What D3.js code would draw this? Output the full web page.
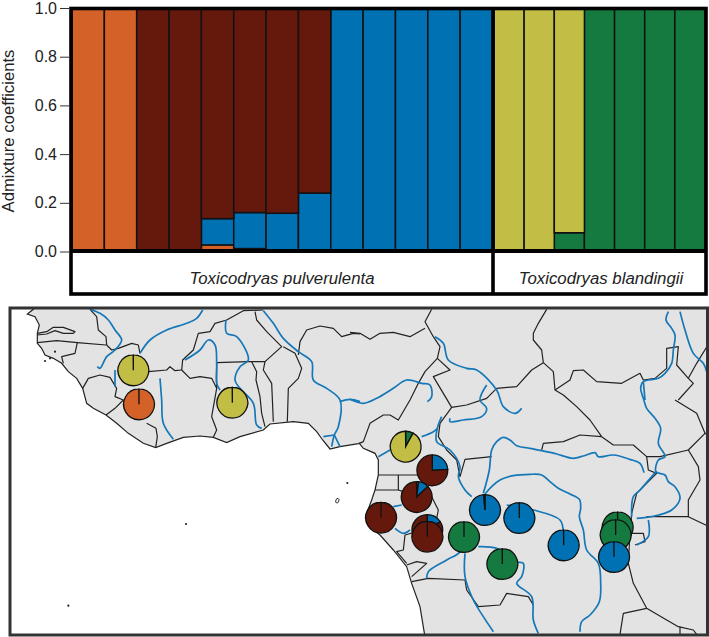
<!DOCTYPE html>
<html>
<head>
<meta charset="utf-8">
<script src="https://cdn.jsdelivr.net/npm/d3@7"></script>
<style>
  html, body { margin: 0; padding: 0; background: #fff; }
  svg { display: block; font-family: "Liberation Sans", Arial, sans-serif; }
</style>
</head>
<body>
<svg id="chart" width="709" height="637"></svg>
<script>
// admixture bars, one value per individual
const individuals = d3.range(20);
const species = ['Toxicodryas pulverulenta', 'Toxicodryas blandingii'];
const speciesCounts = [13, 7];
const clusters = ['orange', 'blue', 'green', 'brown', 'yellow'];
const orangeShare = [1, 1, 0, 0, 0.027, 0.012, 0.004, 0.004, 0, 0, 0, 0, 0, 0, 0, 0, 0, 0, 0, 0];
const blueShare = [0, 0, 0, 0, 0.108, 0.148, 0.153, 0.236, 1, 1, 1, 1, 1, 0, 0, 0, 0, 0, 0, 0];
const greenShare = [0, 0, 0, 0, 0, 0, 0, 0, 0, 0, 0, 0, 0, 0, 0, 0.077, 1, 1, 1, 1];
const brownShare = [0, 0, 1, 1, 0.865, 0.84, 0.843, 0.76, 0, 0, 0, 0, 0, 0, 0, 0, 0, 0, 0, 0];
const yellowShare = [0, 0, 0, 0, 0, 0, 0, 0, 0, 0, 0, 0, 0, 1, 1, 0.923, 0, 0, 0, 0];
const yTicks = [0, 0.2, 0.4, 0.6, 0.8, 1];

// sampling sites, digitised in 3x map units; shares follow the order of clusters
const sitesWest = [
  { at: [400, 211], share: [0, 0, 0, 0, 1] },
  { at: [417, 313], share: [1, 0, 0, 0, 0] },
  { at: [697, 308], share: [0, 0, 0, 0, 1] }
];
const sitesEast = [
  { at: [167, 440], share: [0, 0, 0.08, 0, 0.92] },
  { at: [247, 511], share: [0, 0.24, 0, 0.76, 0] },
  { at: [200, 591], share: [0.02, 0.11, 0, 0.87, 0] },
  { at: [93, 653], share: [0, 0, 0, 1, 0] },
  { at: [232, 690], share: [0, 0.16, 0, 0.84, 0] },
  { at: [232, 710], share: [0, 0, 0, 1, 0] },
  { at: [342, 711], share: [0, 0, 1, 0, 0] },
  { at: [405, 630], share: [0, 0.985, 0, 0.015, 0] },
  { at: [508, 654], share: [0, 1, 0, 0, 0] },
  { at: [457, 792], share: [0, 0, 1, 0, 0] },
  { at: [641, 736], share: [0, 1, 0, 0, 0] },
  { at: [803, 682], share: [0, 0, 1, 0, 0] },
  { at: [797, 705], share: [0, 0, 1, 0, 0] },
  { at: [792, 771], share: [0, 1, 0, 0, 0] }
];

// traced geography
const coastWest = [[105,0],[100,28],[82,42],[105,50],[118,75],[112,100],[112,130],[125,145],[135,165],[160,175],[185,190],[205,215],[230,235],[248,265],[260,310],[280,325],[318,345],[350,370],[385,400],[430,430],[467,443],[500,430],[550,412],[600,408],[640,412],[680,428],[720,410],[790,390],[810,372],[880,365],[925,370],[950,395],[968,420],[990,447],[1020,440],[1080,430]];
const coastEast = [[28,430],[40,445],[75,460],[85,480],[85,525],[75,570],[65,600],[50,640],[60,680],[90,705],[130,750],[170,800],[185,850],[210,920],[225,1011],[1080,1011],[1080,0]];
const bordersWest = [
  [[112,100],[140,95],[160,82],[190,82],[225,95],[220,100],[190,100],[165,92],[140,102],[112,105]],
  [[112,128],[170,122],[232,128],[318,135]],
  [[270,28],[290,50],[295,90],[318,110],[320,135],[335,150],[355,145],[395,130],[415,135],[420,160]],
  [[232,128],[225,160],[185,170],[190,190]],
  [[248,265],[265,235],[300,225],[330,232],[350,265],[345,290],[370,300],[345,325],[318,345]],
  [[440,370],[468,385],[472,410],[467,443]],
  [[445,215],[500,210],[510,200],[525,212],[545,210]],
  [[545,210],[548,180],[580,150],[595,100],[630,95],[645,70],[680,60],[730,32],[790,30]],
  [[545,210],[570,235],[600,230],[635,235],[650,265],[635,350],[650,390],[640,412]],
  [[650,188],[745,185],[795,185],[845,140],[830,125],[800,95],[770,60],[765,35]],
  [[650,188],[650,265]],
  [[755,185],[770,215],[768,240],[780,290],[785,340],[795,380]],
  [[795,185],[790,210],[815,250],[820,365]],
  [[850,140],[885,160],[905,205],[895,235],[865,265],[862,365]],
  [[895,165],[900,125],[920,90],[960,78],[1000,85],[1025,110],[1060,100],[1080,102]]
];
const bordersEast = [
  [[0,97],[30,100],[60,118],[90,100],[130,97],[180,110],[225,85]],
  [[245,28],[225,65],[250,110],[270,140],[262,175],[225,215],[205,250],[180,300],[145,360],[120,345],[100,345],[60,370],[40,425],[28,430]],
  [[262,175],[300,210],[250,230],[280,280],[305,322],[350,315],[410,295],[440,265],[500,260],[545,210],[580,188],[610,215],[615,270],[640,285],[680,320],[720,360],[755,410]],
  [[590,28],[565,70],[550,100],[550,120],[575,150],[580,188]],
  [[615,270],[660,240],[670,212],[700,210],[740,245],[815,250],[870,220],[880,240],[915,235],[950,205],[950,145],[985,140],[980,195],[1015,235],[1040,190],[1077,130]],
  [[985,300],[1030,250],[1015,235]],
  [[975,300],[1040,340],[1065,400],[1015,450],[1045,500],[1050,540],[1015,600],[1015,650],[1077,680]],
  [[1065,400],[1077,405]],
  [[755,410],[690,405],[640,425],[580,430],[575,450]],
  [[755,410],[790,435],[850,435],[890,470],[930,470],[1015,450]],
  [[890,470],[895,510],[920,520],[860,580],[845,640],[840,700],[835,790],[850,850],[890,925],[950,960],[985,980],[1030,990],[1040,1003]],
  [[890,925],[820,940],[810,1003]],
  [[990,980],[990,1003]],
  [[890,650],[1015,650]],
  [[840,700],[880,700],[885,725],[855,735]],
  [[305,322],[270,370],[265,410],[290,450],[320,480],[330,530]],
  [[330,530],[345,478],[425,470]],
  [[85,525],[145,525],[205,525]],
  [[145,525],[145,570],[75,570]],
  [[145,570],[160,575],[245,590],[265,630],[255,680],[165,705],[160,750],[140,755],[170,790]],
  [[170,795],[200,785],[230,790],[185,830]],
  [[185,845],[235,835],[345,840],[350,870],[385,920],[450,915],[470,880],[535,890],[550,915]]
];
const riversWest = [
  [[270,28],[300,40],[325,60],[345,90],[365,120],[345,150],[320,170],[300,205],[292,200]],
  [[608,30],[590,55],[560,70],[500,90],[450,120],[420,160]],
  [[345,210],[345,260]],
  [[480,235],[485,300],[490,370],[520,418]],
  [[555,180],[600,150],[625,120],[645,135],[650,190],[650,250],[660,270]],
  [[678,60],[680,100],[710,110],[745,180],[720,200],[705,240],[720,265],[760,310],[770,375],[785,385]],
  [[790,32],[820,70],[850,115],[895,155],[935,185],[940,240],[980,265],[1020,300],[1015,380],[1003,405],[995,440]],
  [[1003,405],[970,410]],
  [[1003,405],[1020,440]],
  [[1020,305],[1050,298],[1080,305]]
];
const riversEast = [
  [[0,298],[40,310],[80,295],[130,265],[170,240],[215,250],[240,255],[245,290],[232,305]],
  [[255,110],[280,130],[295,180],[350,205],[380,210],[440,270],[460,320],[495,340],[515,325]],
  [[410,255],[390,300],[410,325],[395,350],[340,360],[300,365],[300,355]],
  [[275,350],[262,385],[260,425],[300,450],[330,500],[325,530],[345,570],[365,590]],
  [[85,470],[120,450]],
  [[215,410],[250,395],[262,385]],
  [[400,580],[418,510],[425,450],[440,425],[460,412],[480,420],[500,437],[540,445],[575,452],[620,462],[670,475],[700,468],[735,458],[745,470],[790,465],[840,478],[870,490],[882,518]],
  [[405,582],[425,560],[450,540],[490,527],[540,523],[575,525],[600,545],[625,565],[660,582],[688,598],[692,625],[688,650],[700,690],[710,750],[745,790],[752,850],[748,905],[720,945],[695,965],[690,995]],
  [[470,615],[550,630],[630,660],[640,700]],
  [[130,620],[155,615]],
  [[135,685],[160,700],[180,690]],
  [[230,835],[235,815],[290,780],[330,755],[345,700]],
  [[385,740],[440,745],[500,785],[520,790],[515,830],[500,850],[545,890],[550,960],[565,1000]],
  [[345,760],[345,830],[370,900],[400,950],[430,995]],
  [[955,35],[948,60],[965,85],[975,105],[970,150],[965,190],[945,220],[925,235],[880,245],[872,265],[880,295],[890,325],[915,355],[932,385],[925,430],[945,470],[925,480],[918,515],[945,525],[955,545],[975,560],[990,595],[965,630],[925,645],[890,652],[860,655]],
  [[990,35],[1005,90],[1030,160],[1060,190],[1070,215]],
  [[918,515],[870,570],[850,590],[845,650]],
  [[895,660],[895,710],[860,735]],
  [[880,245],[885,300]]
];
const islands = [[135,183],[150,175],[165,155],[558,672],[205,917],[1042,549]];

const colors = { orange: '#d46127', blue: '#0071b3', green: '#157a3f', brown: '#65190d', yellow: '#c2bd45' };

const svg = d3.select('#chart');

// --- bar panel ---
const y = d3.scaleLinear().domain([0, 1]).range([251.5, 8]);
const xLeft = d3.scaleBand().domain(d3.range(speciesCounts[0])).range([72, 492.5]);
const xRight = d3.scaleBand().domain(d3.range(speciesCounts[0], 20)).range([494, 705]);
const barX = i => i < speciesCounts[0] ? xLeft(i) : xRight(i);
const barW = i => i < speciesCounts[0] ? xLeft.bandwidth() : xRight.bandwidth();

const shares = { orange: orangeShare, blue: blueShare, green: greenShare, brown: brownShare, yellow: yellowShare };
const stacked = d3.stack()
  .keys(clusters)
  .value((i, key) => shares[key][i])(individuals);

svg.append('g').selectAll('g').data(stacked).enter()
  .append('g')
    .attr('fill', d => colors[d.key])
  .selectAll('rect').data(d => d.filter(s => s[1] > s[0])).enter()
  .append('rect')
    .attr('x', d => barX(d.data))
    .attr('width', d => barW(d.data))
    .attr('y', d => y(d[1]))
    .attr('height', d => y(d[0]) - y(d[1]))
    .attr('stroke', '#111')
    .attr('stroke-width', 1.5);

// thick frame, baseline and species strip
const frame = svg.append('g').attr('fill', 'none').attr('stroke', '#000');
frame.append('rect').attr('x', 71).attr('y', 8.5).attr('width', 635).attr('height', 285.5).attr('stroke-width', 3.6);
frame.append('line').attr('x1', 71).attr('x2', 706).attr('y1', 251).attr('y2', 251).attr('stroke-width', 4);
frame.append('line').attr('x1', 493).attr('x2', 493).attr('y1', 8).attr('y2', 294).attr('stroke-width', 3.6);

const yAxis = d3.axisLeft(y).tickValues(yTicks).tickSize(9).tickPadding(3).tickFormat(d3.format('.1f'));
const axisG = svg.append('g').attr('transform', 'translate(69,0)').call(yAxis);
axisG.select('.domain').remove();
axisG.selectAll('line').attr('stroke', '#333').attr('stroke-width', 1);
axisG.selectAll('text').attr('font-size', 16).attr('font-family', '"Liberation Sans", Arial, sans-serif').attr('fill', '#222');

svg.append('text')
  .attr('transform', 'translate(13.5,131) rotate(-90)')
  .attr('text-anchor', 'middle')
  .attr('font-size', 16.7)
  .attr('fill', '#222')
  .text('Admixture coefficients');

svg.selectAll('text.species').data(species).enter()
  .append('text')
    .attr('class', 'species')
    .attr('x', (d, i) => i == 0 ? 282 : 601)
    .attr('y', 284)
    .attr('text-anchor', 'middle')
    .attr('font-size', 16.8)
    .attr('font-style', 'italic')
    .attr('fill', '#222')
    .text(d => d);

// --- map panel ---
// digitised in 3x units, east half is offset by 1050 units
const mapX = d3.scaleLinear().domain([0, 2127]).range([0, 709]);
const mapY = d3.scaleLinear().domain([0, 1011]).range([300, 637]);
const shiftEast = pts => pts.map(p => [p[0] + 1050, p[1]]);
const toLine = d3.line().x(p => mapX(p[0])).y(p => mapY(p[1]));
const toRiver = d3.line().x(p => mapX(p[0])).y(p => mapY(p[1])).curve(d3.curveCatmullRom.alpha(0.5));

svg.append('clipPath').attr('id', 'mapClip')
  .append('rect').attr('x', 10).attr('y', 308).attr('width', 697.5).attr('height', 327);

const map = svg.append('g').attr('clip-path', 'url(#mapClip)');

map.append('path')
  .attr('d', toLine(coastWest.concat(shiftEast(coastEast))) + 'Z')
  .attr('fill', '#e3e3e3');
map.append('path')
  .attr('d', toLine(coastWest.concat(shiftEast(coastEast.slice(0, 15)))))
  .attr('fill', 'none')
  .attr('stroke', '#222')
  .attr('stroke-width', 1.2);

const allBorders = bordersWest.concat(bordersEast.map(shiftEast));
map.append('g').selectAll('path').data(allBorders).enter()
  .append('path')
    .attr('d', toLine)
    .attr('fill', 'none')
    .attr('stroke', '#222')
    .attr('stroke-width', 1.2)
    .attr('stroke-linejoin', 'round');

const allRivers = riversWest.concat(riversEast.map(shiftEast));
map.append('g').selectAll('path').data(allRivers).enter()
  .append('path')
    .attr('d', toRiver)
    .attr('fill', 'none')
    .attr('stroke', '#1578b8')
    .attr('stroke-width', 1.7)
    .attr('stroke-linejoin', 'round');

map.append('g').selectAll('circle').data(islands).enter()
  .append('circle')
    .attr('cx', p => mapX(p[0]))
    .attr('cy', p => mapY(p[1]))
    .attr('r', 1.1)
    .attr('fill', '#222');
map.append('ellipse')
  .attr('cx', mapX(1012)).attr('cy', mapY(602))
  .attr('rx', 1.5).attr('ry', 2.4)
  .attr('transform', `rotate(20 ${mapX(1012)} ${mapY(602)})`)
  .attr('fill', '#fff').attr('stroke', '#222').attr('stroke-width', 0.9);

// --- pies ---
const pie = d3.pie().sort(null).value(d => d.v);
const arc = d3.arc().innerRadius(0).outerRadius(15.4);
const sites = sitesWest.concat(sitesEast.map(s => ({ at: [s.at[0] + 1050, s.at[1]], share: s.share })));

const pies = map.append('g').selectAll('g').data(sites).enter()
  .append('g')
    .attr('transform', d => `translate(${mapX(d.at[0])},${mapY(d.at[1])})`);
pies.selectAll('path')
  .data(d => pie(d.share.map((v, i) => ({ v, key: clusters[i] }))).filter(s => s.data.v > 0))
  .enter().append('path')
    // a full turn would lose its radial edge, so stop just short of it
    .attr('d', d => arc({ ...d, endAngle: Math.min(d.endAngle, 2 * Math.PI - 0.01) }))
    .attr('fill', d => colors[d.data.key])
    .attr('stroke', '#111')
    .attr('stroke-width', 1.3);

svg.append('rect')
  .attr('x', 10).attr('y', 308).attr('width', 697.5).attr('height', 327)
  .attr('fill', 'none').attr('stroke', '#333').attr('stroke-width', 3);
</script>
</body>
</html>
